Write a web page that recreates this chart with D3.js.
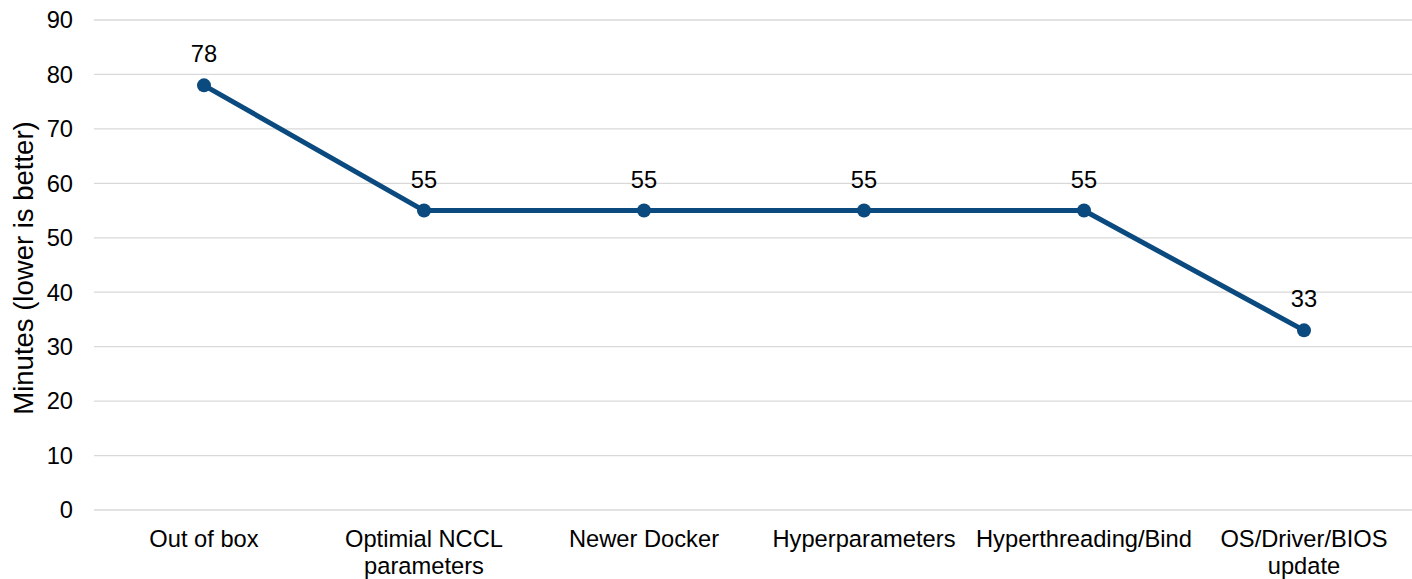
<!DOCTYPE html>
<html>
<head>
<meta charset="utf-8">
<script src="https://cdn.jsdelivr.net/npm/d3@7"></script>
<style>
  html, body { margin: 0; padding: 0; background: #fff; }
  svg { display: block; font-family: "Liberation Sans", Arial, sans-serif; }
</style>
</head>
<body>
<svg id="chart" width="1412" height="579"></svg>
<script>
// Training time after each tuning step
const categories = [
  ["Out of box"],
  ["Optimial NCCL", "parameters"],
  ["Newer Docker"],
  ["Hyperparameters"],
  ["Hyperthreading/Bind"],
  ["OS/Driver/BIOS", "update"]
];
const minutes = [78, 55, 55, 55, 55, 33];
const yTicks = [0, 10, 20, 30, 40, 50, 60, 70, 80, 90];
const yTitle = "Minutes (lower is better)";

const svg = d3.select("#chart");
const plot = { left: 94, right: 1414, top: 20, bottom: 510 };
const lineColor = "#0b4a7e";
const fontSize = 23.7;

const x = d3.scaleBand()
  .domain(d3.range(categories.length))
  .range([plot.left, plot.right]);
const y = d3.scaleLinear().domain([0, 90]).range([plot.bottom, plot.top]);
const cx = i => x(i) + x.bandwidth() / 2;

// gridlines
svg.append("g")
  .selectAll("line")
  .data(yTicks)
  .join("line")
  .attr("x1", plot.left).attr("x2", 1412)
  .attr("y1", d => y(d)).attr("y2", d => y(d))
  .attr("stroke", "#d9d9d9")
  .attr("stroke-width", 1.3);

// y tick labels
svg.append("g")
  .selectAll("text")
  .data(yTicks)
  .join("text")
  .attr("x", 73)
  .attr("y", d => y(d))
  .attr("dy", "0.35em")
  .attr("text-anchor", "end")
  .attr("font-size", fontSize)
  .attr("fill", "#000")
  .text(d => d);

// y axis title
svg.append("text")
  .attr("transform", `translate(33,268) rotate(-90)`)
  .attr("text-anchor", "middle")
  .attr("font-size", 27.5)
  .attr("fill", "#000")
  .text(yTitle);

// category labels
const cat = svg.append("g")
  .selectAll("text")
  .data(categories)
  .join("text")
  .attr("text-anchor", "middle")
  .attr("font-size", fontSize)
  .attr("fill", "#000")
  .attr("x", (d, i) => cx(i))
  .attr("y", 547);
cat.selectAll("tspan")
  .data(d => d)
  .join("tspan")
  .attr("x", function() { return this.parentNode.getAttribute("x"); })
  .attr("dy", (d, j) => j === 0 ? 0 : 27)
  .text(d => d);

// series line
svg.append("path")
  .datum(minutes)
  .attr("fill", "none")
  .attr("stroke", lineColor)
  .attr("stroke-width", 5)
  .attr("stroke-linejoin", "round")
  .attr("d", d3.line().x((d, i) => cx(i)).y(d => y(d)));

// markers
svg.append("g")
  .selectAll("circle")
  .data(minutes)
  .join("circle")
  .attr("cx", (d, i) => cx(i))
  .attr("cy", d => y(d))
  .attr("r", 7)
  .attr("fill", lineColor);

// value labels
svg.append("g")
  .selectAll("text")
  .data(minutes)
  .join("text")
  .attr("x", (d, i) => cx(i))
  .attr("y", d => y(d) - 23)
  .attr("text-anchor", "middle")
  .attr("font-size", fontSize)
  .attr("fill", "#000")
  .text(d => d);
</script>
</body>
</html>
